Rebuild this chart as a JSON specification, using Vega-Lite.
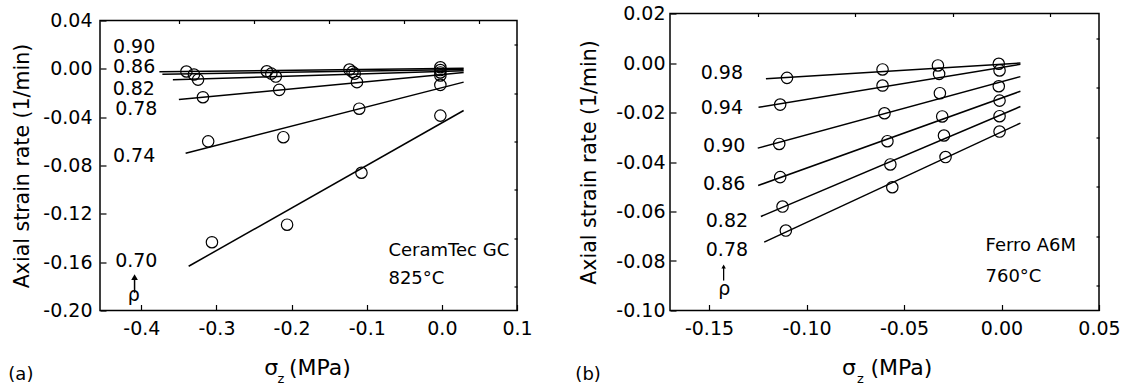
{
  "$schema": "https://vega.github.io/schema/vega-lite/v6.json",
  "padding": {"left": 7, "top": 2.5, "right": 0, "bottom": 0},
  "spacing": 41,
  "background": "white",
  "config": {
    "font": "DejaVu Sans",
    "locale": {"number": {"decimal": ".", "thousands": ",", "grouping": [3], "currency": ["", ""], "minus": "-"}},
    "view": {"stroke": "black", "strokeWidth": 1.5},
    "axis": {"domain": false, "grid": false, "tickColor": "black", "tickWidth": 1.2, "labelColor": "black", "labelFont": "DejaVu Sans", "labelFontSize": 19, "titleFont": "DejaVu Sans", "titleFontSize": 20.5, "titleFontWeight": "normal", "titleColor": "black", "labelFlush": false, "labelOverlap": false},
    "text": {"font": "DejaVu Sans", "fontSize": 19, "color": "black"}
  },
  "datasets": {
    "spacer": [{"k": 1}],
    "a_lines": [
      {"rho": "0.90", "sigma": -0.376, "rate": -0.0025}, {"rho": "0.90", "sigma": 0.029, "rate": 0.0005},
      {"rho": "0.86", "sigma": -0.372, "rate": -0.0045}, {"rho": "0.86", "sigma": 0.029, "rate": -0.0005},
      {"rho": "0.82", "sigma": -0.358, "rate": -0.0091}, {"rho": "0.82", "sigma": 0.029, "rate": -0.0015},
      {"rho": "0.78", "sigma": -0.35, "rate": -0.0254}, {"rho": "0.78", "sigma": 0.029, "rate": -0.003},
      {"rho": "0.74", "sigma": -0.341, "rate": -0.0699}, {"rho": "0.74", "sigma": 0.029, "rate": -0.011},
      {"rho": "0.70", "sigma": -0.337, "rate": -0.1634}, {"rho": "0.70", "sigma": 0.029, "rate": -0.0345}
    ],
    "a_pts": [
      {"rho": "0.90", "sigma": -0.34, "rate": -0.0022}, {"rho": "0.90", "sigma": -0.233, "rate": -0.002}, {"rho": "0.90", "sigma": -0.123, "rate": -0.0006}, {"rho": "0.90", "sigma": -0.002, "rate": 0.0013},
      {"rho": "0.86", "sigma": -0.33, "rate": -0.0047}, {"rho": "0.86", "sigma": -0.227, "rate": -0.004}, {"rho": "0.86", "sigma": -0.119, "rate": -0.0025}, {"rho": "0.86", "sigma": -0.002, "rate": -0.001},
      {"rho": "0.82", "sigma": -0.3245, "rate": -0.0089}, {"rho": "0.82", "sigma": -0.221, "rate": -0.0064}, {"rho": "0.82", "sigma": -0.116, "rate": -0.004}, {"rho": "0.82", "sigma": -0.002, "rate": -0.003},
      {"rho": "0.78", "sigma": -0.318, "rate": -0.0235}, {"rho": "0.78", "sigma": -0.2165, "rate": -0.0174}, {"rho": "0.78", "sigma": -0.113, "rate": -0.011}, {"rho": "0.78", "sigma": -0.002, "rate": -0.0055},
      {"rho": "0.74", "sigma": -0.311, "rate": -0.06}, {"rho": "0.74", "sigma": -0.211, "rate": -0.0566}, {"rho": "0.74", "sigma": -0.11, "rate": -0.033}, {"rho": "0.74", "sigma": -0.002, "rate": -0.0133},
      {"rho": "0.70", "sigma": -0.306, "rate": -0.1435}, {"rho": "0.70", "sigma": -0.206, "rate": -0.129}, {"rho": "0.70", "sigma": -0.107, "rate": -0.086}, {"rho": "0.70", "sigma": -0.002, "rate": -0.0387}
    ],
    "a_labels": [
      {"text": "0.90", "sigma": -0.4096, "rate": 0.0129},
      {"text": "0.86", "sigma": -0.4096, "rate": -0.0036},
      {"text": "0.82", "sigma": -0.41, "rate": -0.0213},
      {"text": "0.78", "sigma": -0.4067, "rate": -0.0378},
      {"text": "0.74", "sigma": -0.4096, "rate": -0.0773},
      {"text": "0.70", "sigma": -0.4067, "rate": -0.1637},
      {"text": "ρ", "sigma": -0.41, "rate": -0.1918}
    ],
    "a_arrow": [{"sigma": -0.409, "tail": -0.1853, "head": -0.1724}],
    "a_note": [
      {"text": "CeramTec GC", "sigma": -0.0711, "rate": -0.1545},
      {"text": "825°C", "sigma": -0.0711, "rate": -0.178}
    ],
    "a_xtitle": [{"text": "σ", "sigma": -0.227, "rate": -0.2531}],
    "a_xtitle2": [{"text": "(MPa)", "sigma": -0.2036, "rate": -0.2531}],
    "a_xsub": [{"text": "z", "sigma": -0.2143, "rate": -0.2597}],
    "a_tag": [{"text": "(a)", "sigma": -0.5603, "rate": -0.2572}],
    "b_lines": [
      {"rho": "0.98", "sigma": -0.1208, "rate": -0.0064}, {"rho": "0.98", "sigma": 0.0097, "rate": 0.0},
      {"rho": "0.94", "sigma": -0.1246, "rate": -0.0179}, {"rho": "0.94", "sigma": 0.0097, "rate": -0.0005},
      {"rho": "0.90", "sigma": -0.125, "rate": -0.0344}, {"rho": "0.90", "sigma": 0.0097, "rate": -0.0055},
      {"rho": "0.86", "sigma": -0.1248, "rate": -0.0495}, {"rho": "0.86", "sigma": 0.0097, "rate": -0.0114},
      {"rho": "0.82", "sigma": -0.1234, "rate": -0.062}, {"rho": "0.82", "sigma": 0.0097, "rate": -0.0176},
      {"rho": "0.78", "sigma": -0.1217, "rate": -0.0724}, {"rho": "0.78", "sigma": 0.0097, "rate": -0.0243}
    ],
    "b_pts": [
      {"rho": "0.98", "sigma": -0.11, "rate": -0.006}, {"rho": "0.98", "sigma": -0.061, "rate": -0.0026}, {"rho": "0.98", "sigma": -0.0326, "rate": -0.001}, {"rho": "0.98", "sigma": -0.0014, "rate": -0.0003},
      {"rho": "0.94", "sigma": -0.1135, "rate": -0.0168}, {"rho": "0.94", "sigma": -0.061, "rate": -0.0091}, {"rho": "0.94", "sigma": -0.032, "rate": -0.0044}, {"rho": "0.94", "sigma": -0.001, "rate": -0.003},
      {"rho": "0.90", "sigma": -0.114, "rate": -0.0327}, {"rho": "0.90", "sigma": -0.06, "rate": -0.0203}, {"rho": "0.90", "sigma": -0.0316, "rate": -0.0122}, {"rho": "0.90", "sigma": -0.0014, "rate": -0.0094},
      {"rho": "0.86", "sigma": -0.1135, "rate": -0.0461}, {"rho": "0.86", "sigma": -0.0585, "rate": -0.0316}, {"rho": "0.86", "sigma": -0.0304, "rate": -0.0216}, {"rho": "0.86", "sigma": -0.001, "rate": -0.0152},
      {"rho": "0.82", "sigma": -0.1123, "rate": -0.058}, {"rho": "0.82", "sigma": -0.057, "rate": -0.041}, {"rho": "0.82", "sigma": -0.0295, "rate": -0.0293}, {"rho": "0.82", "sigma": -0.001, "rate": -0.0215},
      {"rho": "0.78", "sigma": -0.1106, "rate": -0.0677}, {"rho": "0.78", "sigma": -0.056, "rate": -0.0502}, {"rho": "0.78", "sigma": -0.0287, "rate": -0.038}, {"rho": "0.78", "sigma": -0.001, "rate": -0.0277}
    ],
    "b_labels": [
      {"text": "0.98", "sigma": -0.1434, "rate": -0.0064},
      {"text": "0.94", "sigma": -0.1434, "rate": -0.0208},
      {"text": "0.90", "sigma": -0.1422, "rate": -0.036},
      {"text": "0.86", "sigma": -0.1422, "rate": -0.0515},
      {"text": "0.82", "sigma": -0.1408, "rate": -0.0663},
      {"text": "0.78", "sigma": -0.1408, "rate": -0.0778},
      {"text": "ρ", "sigma": -0.1422, "rate": -0.0939}
    ],
    "b_arrow": [{"sigma": -0.1425, "tail": -0.0879, "head": -0.0822}],
    "b_note": [
      {"text": "Ferro A6M", "sigma": -0.0082, "rate": -0.0758},
      {"text": "760°C", "sigma": -0.0082, "rate": -0.0886}
    ],
    "b_xtitle": [{"text": "σ", "sigma": -0.0782, "rate": -0.1259}],
    "b_xtitle2": [{"text": "(MPa)", "sigma": -0.0672, "rate": -0.1259}],
    "b_xsub": [{"text": "z", "sigma": -0.0724, "rate": -0.1291}],
    "b_tag": [{"text": "(b)", "sigma": -0.212, "rate": -0.1279}]
  },
  "hconcat": [
    {
      "spacing": 0,
      "vconcat": [
        {
          "width": 10, "height": 8,
          "view": {"stroke": null},
          "data": {"name": "spacer"},
          "mark": {"type": "point", "size": 0, "opacity": 0},
          "encoding": {}
        },
        {
          "width": 417,
          "height": 290,
          "resolve": {"axis": {"x": "independent", "y": "independent"}},
          "layer": [
            {
              "data": {"name": "a_lines"},
              "mark": {"type": "line", "color": "black", "strokeWidth": 1.5},
              "encoding": {
                "x": {"field": "sigma", "type": "quantitative", "scale": {"domain": [-0.455, 0.1], "nice": false, "zero": false},
                      "axis": {"values": [-0.4, -0.3, -0.2, -0.1, 0, 0.1], "format": ".1f", "tickSize": -6, "labelPadding": 15, "title": null}},
                "y": {"field": "rate", "type": "quantitative", "scale": {"domain": [-0.2, 0.04], "nice": false, "zero": false},
                      "axis": {"values": [-0.2, -0.16, -0.12, -0.08, -0.04, 0, 0.04], "format": ".2f", "tickSize": -6, "labelPadding": 14, "title": "Axial strain rate (1/min)", "titlePadding": 10}},
                "detail": {"field": "rho", "type": "nominal"}
              }
            },
            {
              "data": {"name": "a_pts"},
              "mark": {"type": "point", "shape": "circle", "filled": false, "size": 130, "color": "black", "strokeWidth": 1.2, "opacity": 1},
              "encoding": {
                "x": {"field": "sigma", "type": "quantitative", "axis": {"values": [-0.35, -0.25, -0.15, -0.05, 0.05], "labels": false, "tickSize": -3, "title": null}},
                "y": {"field": "rate", "type": "quantitative", "axis": {"values": [-0.18, -0.14, -0.1, -0.06, -0.02, 0.02], "labels": false, "tickSize": -3, "title": null}}
              }
            },
            {
              "data": {"name": "a_labels"},
              "mark": {"type": "text", "align": "center", "baseline": "alphabetic", "fontSize": 19},
              "encoding": {
                "x": {"field": "sigma", "type": "quantitative", "axis": null},
                "y": {"field": "rate", "type": "quantitative", "axis": null},
                "text": {"field": "text"}
              }
            },
            {
              "data": {"name": "a_arrow"},
              "mark": {"type": "rule", "color": "black", "strokeWidth": 1.5},
              "encoding": {
                "x": {"field": "sigma", "type": "quantitative", "axis": null},
                "y": {"field": "tail", "type": "quantitative", "axis": null},
                "y2": {"field": "head"}
              }
            },
            {
              "data": {"name": "a_arrow"},
              "mark": {"type": "point", "shape": "triangle-up", "filled": true, "size": 45, "color": "black", "opacity": 1},
              "encoding": {
                "x": {"field": "sigma", "type": "quantitative", "axis": null},
                "y": {"field": "head", "type": "quantitative", "axis": null}
              }
            },
            {
              "data": {"name": "a_note"},
              "mark": {"type": "text", "align": "left", "baseline": "alphabetic", "fontSize": 18},
              "encoding": {
                "x": {"field": "sigma", "type": "quantitative", "axis": null},
                "y": {"field": "rate", "type": "quantitative", "axis": null},
                "text": {"field": "text"}
              }
            },
            {
              "data": {"name": "a_xtitle"},
              "mark": {"type": "text", "align": "center", "baseline": "alphabetic", "fontSize": 22},
              "encoding": {
                "x": {"field": "sigma", "type": "quantitative", "axis": null},
                "y": {"field": "rate", "type": "quantitative", "axis": null},
                "text": {"field": "text"}
              }
            },
            {
              "data": {"name": "a_xtitle2"},
              "mark": {"type": "text", "align": "left", "baseline": "alphabetic", "fontSize": 22},
              "encoding": {
                "x": {"field": "sigma", "type": "quantitative", "axis": null},
                "y": {"field": "rate", "type": "quantitative", "axis": null},
                "text": {"field": "text"}
              }
            },
            {
              "data": {"name": "a_xsub"},
              "mark": {"type": "text", "align": "center", "baseline": "alphabetic", "fontSize": 13},
              "encoding": {
                "x": {"field": "sigma", "type": "quantitative", "axis": null},
                "y": {"field": "rate", "type": "quantitative", "axis": null},
                "text": {"field": "text"}
              }
            },
            {
              "data": {"name": "a_tag"},
              "mark": {"type": "text", "align": "center", "baseline": "alphabetic", "fontSize": 18},
              "encoding": {
                "x": {"field": "sigma", "type": "quantitative", "axis": null},
                "y": {"field": "rate", "type": "quantitative", "axis": null},
                "text": {"field": "text"}
              }
            }
          ]
        }
      ]
    },
    {
      "spacing": 0,
      "vconcat": [
        {
          "width": 10, "height": 1,
          "view": {"stroke": null},
          "data": {"name": "spacer"},
          "mark": {"type": "point", "size": 0, "opacity": 0},
          "encoding": {}
        },
        {
          "width": 429,
          "height": 297,
          "resolve": {"axis": {"x": "independent", "y": "independent"}},
          "layer": [
            {
              "data": {"name": "b_lines"},
              "mark": {"type": "line", "color": "black", "strokeWidth": 1.5},
              "encoding": {
                "x": {"field": "sigma", "type": "quantitative", "scale": {"domain": [-0.17, 0.05], "nice": false, "zero": false},
                      "axis": {"values": [-0.15, -0.1, -0.05, 0, 0.05], "format": ".2f", "tickSize": -6, "labelPadding": 15, "title": null}},
                "y": {"field": "rate", "type": "quantitative", "scale": {"domain": [-0.1, 0.02], "nice": false, "zero": false},
                      "axis": {"values": [-0.1, -0.08, -0.06, -0.04, -0.02, 0, 0.02], "format": ".2f", "tickSize": -6, "labelPadding": 11, "title": "Axial strain rate (1/min)", "titlePadding": 16}},
                "detail": {"field": "rho", "type": "nominal"}
              }
            },
            {
              "data": {"name": "b_pts"},
              "mark": {"type": "point", "shape": "circle", "filled": false, "size": 130, "color": "black", "strokeWidth": 1.2, "opacity": 1},
              "encoding": {
                "x": {"field": "sigma", "type": "quantitative", "axis": {"values": [-0.125, -0.075, -0.025, 0.025], "labels": false, "tickSize": -3, "title": null}},
                "y": {"field": "rate", "type": "quantitative", "axis": {"values": [-0.09, -0.07, -0.05, -0.03, -0.01, 0.01], "labels": false, "tickSize": -3, "title": null}}
              }
            },
            {
              "data": {"name": "b_labels"},
              "mark": {"type": "text", "align": "center", "baseline": "alphabetic", "fontSize": 19},
              "encoding": {
                "x": {"field": "sigma", "type": "quantitative", "axis": null},
                "y": {"field": "rate", "type": "quantitative", "axis": null},
                "text": {"field": "text"}
              }
            },
            {
              "data": {"name": "b_arrow"},
              "mark": {"type": "rule", "color": "black", "strokeWidth": 1.3},
              "encoding": {
                "x": {"field": "sigma", "type": "quantitative", "axis": null},
                "y": {"field": "tail", "type": "quantitative", "axis": null},
                "y2": {"field": "head"}
              }
            },
            {
              "data": {"name": "b_arrow"},
              "mark": {"type": "point", "shape": "triangle-up", "filled": true, "size": 20, "color": "black", "opacity": 1},
              "encoding": {
                "x": {"field": "sigma", "type": "quantitative", "axis": null},
                "y": {"field": "head", "type": "quantitative", "axis": null}
              }
            },
            {
              "data": {"name": "b_note"},
              "mark": {"type": "text", "align": "left", "baseline": "alphabetic", "fontSize": 18},
              "encoding": {
                "x": {"field": "sigma", "type": "quantitative", "axis": null},
                "y": {"field": "rate", "type": "quantitative", "axis": null},
                "text": {"field": "text"}
              }
            },
            {
              "data": {"name": "b_xtitle"},
              "mark": {"type": "text", "align": "center", "baseline": "alphabetic", "fontSize": 22},
              "encoding": {
                "x": {"field": "sigma", "type": "quantitative", "axis": null},
                "y": {"field": "rate", "type": "quantitative", "axis": null},
                "text": {"field": "text"}
              }
            },
            {
              "data": {"name": "b_xtitle2"},
              "mark": {"type": "text", "align": "left", "baseline": "alphabetic", "fontSize": 22},
              "encoding": {
                "x": {"field": "sigma", "type": "quantitative", "axis": null},
                "y": {"field": "rate", "type": "quantitative", "axis": null},
                "text": {"field": "text"}
              }
            },
            {
              "data": {"name": "b_xsub"},
              "mark": {"type": "text", "align": "center", "baseline": "alphabetic", "fontSize": 13},
              "encoding": {
                "x": {"field": "sigma", "type": "quantitative", "axis": null},
                "y": {"field": "rate", "type": "quantitative", "axis": null},
                "text": {"field": "text"}
              }
            },
            {
              "data": {"name": "b_tag"},
              "mark": {"type": "text", "align": "center", "baseline": "alphabetic", "fontSize": 18},
              "encoding": {
                "x": {"field": "sigma", "type": "quantitative", "axis": null},
                "y": {"field": "rate", "type": "quantitative", "axis": null},
                "text": {"field": "text"}
              }
            }
          ]
        }
      ]
    }
  ]
}
